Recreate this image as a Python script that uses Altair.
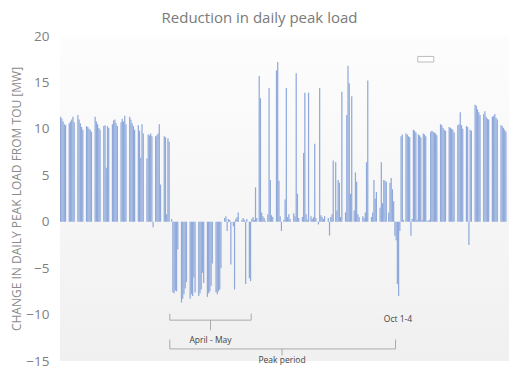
import altair as alt
import pandas as pd

# Daily change in peak load (MW), one row per week (Mon..Sun), 52 weeks
jan_mar = [
    11.3, 11.1, 10.8, 10.5, 10.4, 0, 0,
    10.6, 10.8, 11.0, 11.3, 10.7, 0, 0,
    11.5, 11.0, 10.6, 10.2, 9.9, 0, 0,
    10.3, 10.2, 10.0, 9.9, 9.7, 0, 0,
    11.3, 10.8, 10.5, 10.1, 9.9, 0, 0,
    10.3, 10.4, 5.8, 10.3, 10.1, 0, 0,
    10.5, 10.9, 11.0, 10.6, 10.3, 0, 0,
    10.7, 11.1, 10.8, 11.4, 10.5, 0, 0,
    11.3, 11.0, 10.6, 10.3, 9.9, 0, 0,
    10.4, 9.8, 6.9, 10.5, 9.5, 0, 0,
    6.8, 9.4, 9.3, 9.5, 9.2, -0.6, 0,
    9.2, 9.3, 9.5, 10.5, 4.0, 0, 0,
    9.2, 9.1, 0.8, 9.0, 8.6, 0, 0.3,
]
apr_may = [
    -7.6, -7.7, -7.4, -7.5, -3.0, 0, 0,
    -8.7, -8.3, -7.8, -7.2, -6.5, 0, 0,
    -8.3, -7.8, -8.0, -6.0, -7.6, 0, 0,
    -8.0, -7.7, -7.3, -5.5, -6.6, 0, 0,
    -8.1, -7.7, -7.5, -6.9, -4.5, 0, 0,
    -7.6, -7.8, -7.5, -7.3, -5.0, 0, 0,
    0.4, 0.6, -1.0, 0.3, 0.2, -4.6, 0,
    -0.5, -7.3, 0.3, 0.5, 1.0, 0, 0,
    0.2, 0.4, 0.2, -6.7, 0.3, 0, -6.1,
]
jun_sep = [
    -6.4, 0.3, 0.5, 0.2, 3.7, 0.4, 0,
    15.7, 13.3, 1.0, 0.6, 0.4, 0.1, 0,
    0.8, 14.4, 4.5, 0.7, 0.5, 0, 0,
    16.3, 17.2, 4.4, 0.6, -1.0, 0, 0.2,
    2.4, 14.4, 0.5, 0.8, 0.3, 0, 0,
    0.9, 0.6, 16.0, 3.0, 0.4, 0, 0,
    0.5, 7.4, 13.9, 0.8, 0.2, 13.9, 0,
    0.6, 0.3, 0.5, 8.4, 0.4, 0, -0.3,
    14.4, 0.7, 0.5, 0.3, 0.6, 0, 0,
    0.4, -1.5, 0.5, 0.8, 6.6, 0, 6.4,
    1.2, 4.5, 4.2, 0.5, 14.0, 0, 0,
    1.0, 11.5, 16.8, 14.9, 3.0, 13.5, 0,
    1.2, 5.3, 4.3, 0.8, 0.5, 0, 0,
    0.6, 0.4, 1.0, 6.4, 15.2, 0, 0,
    0.5, 1.0, 4.5, 2.5, 3.2, 0, 0,
    1.5, 6.4, 2.0, 4.5, 4.4, 4.3, 0,
    1.0, 4.2, 4.7, 3.5, 2.2, -1.5, -2.0,
]
oct_dec = [
    -6.7, -8.0, -1.0, 9.2, 9.4, 0.2, 0,
    9.5, 9.4, 9.2, 9.1, -1.5, 0.3, 9.9,
    9.8, 9.6, 0.2, 9.4, 9.3, 9.1, 0.2,
    9.5, 9.4, 9.2, 0.1, 0.1, 0.2, 9.7,
    9.8, 9.7, 9.6, 9.5, 9.3, 0, 0,
    10.5, 10.4, 10.1, 9.9, 9.8, 0, 0,
    10.2, 10.1, 10.0, 9.9, 9.6, 0, 0,
    10.4, 10.5, 11.8, 10.4, 10.0, 0, 0,
    10.3, 10.2, -2.5, 9.9, 9.8, 0, 0,
    12.6, 12.5, 12.1, 11.8, 11.5, 0, 0,
    11.6, 11.9, 11.3, 11.1, 11.0, 0, 0,
    11.3, 11.4, 11.6, 11.2, 11.0, 0, 0,
    10.4, 10.3, 10.1, 9.9, 9.7, 0, 0,
]
y_ticks = [-15, -10, -5, 0, 5, 10, 15, 20]

# annotation brackets (day, value coordinates)
br_x = [89, 155, 89, 122, 89, 272, 89, 180]
br_x2 = [89, 155, 155, 122, 89, 272, 272, 180]
br_y = [-9.9, -9.9, -10.6, -10.6, -12.7, -12.7, -13.7, -13.7]
br_y2 = [-10.6, -10.6, -10.6, -11.7, -13.7, -13.7, -13.7, -14.4]
note_text = ["April - May", "Peak period", "Oct 1-4"]
note_x = [122, 180, 274]
note_y = [-12.7, -14.9, -10.5]

values = jan_mar + apr_may + jun_sep + oct_dec
n_days = len(values)
df = pd.DataFrame({"day": list(range(n_days)), "value": values})
brackets = pd.DataFrame({"x": br_x, "x2": br_x2, "y": br_y, "y2": br_y2})
notes = pd.DataFrame({"t": note_text, "x": note_x, "y": note_y})
legend_box = pd.DataFrame({"x": [290], "x2": [303], "y": [17.8], "y2": [17.2]})
panel = pd.DataFrame({"x": [0], "x2": [n_days], "y": [20], "y2": [-15]})

FONT = "Open Sans"
x_scale = alt.Scale(domain=[0, n_days], nice=False, zero=False)
y_scale = alt.Scale(domain=[-15, 20], nice=False)

bg = alt.Chart(panel).mark_rect(
    color=alt.LinearGradient(
        gradient="linear",
        stops=[alt.GradientStop(color="#fdfdfd", offset=0), alt.GradientStop(color="#f0f0f0", offset=1)],
        x1=0, x2=0, y1=0, y2=1,
    )
).encode(
    x=alt.X("x:Q", scale=x_scale, axis=None), x2="x2:Q",
    y=alt.Y("y:Q", scale=y_scale), y2="y2:Q",
)

bars = (
    alt.Chart(df)
    .transform_calculate(end="datum.day + 1")
    .mark_bar(color="#8fa9db")
    .encode(
        x=alt.X("day:Q", scale=x_scale, axis=None),
        x2="end:Q",
        y=alt.Y(
            "value:Q",
            scale=y_scale,
            axis=alt.Axis(
                values=y_ticks, grid=False, domain=False, ticks=False,
                labelFontSize=13.5, labelColor="#808080", labelPadding=11, labelFont=FONT,
                title="CHANGE IN DAILY PEAK LOAD FROM TOU [MW]",
                titleFontSize=12, titleFontWeight="normal", titleColor="#8a8a8a",
                titleFont=FONT, titleX=-44, titleBaseline="middle",
            ),
        ),
        y2=alt.datum(0),
    )
)

rules = alt.Chart(brackets).mark_rule(color="#aaaaaa", strokeWidth=1).encode(
    x="x:Q", x2="x2:Q", y="y:Q", y2="y2:Q"
)

texts = alt.Chart(notes).mark_text(
    fontSize=8.5, color="#444", font=FONT, baseline="middle", align="center"
).encode(x="x:Q", y="y:Q", text="t:N")

box = alt.Chart(legend_box).mark_rect(fill="white", stroke="#bbbbbb", strokeWidth=1).encode(
    x="x:Q", x2="x2:Q", y="y:Q", y2="y2:Q"
)

chart = (
    alt.layer(bg, bars, rules, texts, box)
    .properties(
        width=449,
        height=325,
        autosize=alt.AutoSizeParams(type="none"),
        padding={"left": 52, "top": 28, "right": 0, "bottom": 7},
        title=alt.TitleParams(
            "Reduction in daily peak load", fontSize=15, color="#7a7a7a",
            fontWeight="normal", font=FONT, anchor="middle", frame="bounds", offset=3,
        ),
        background="white",
    )
    .configure_view(stroke=None)
)

chart.save("out.html", embed_options={"renderer": "svg", "actions": False})
